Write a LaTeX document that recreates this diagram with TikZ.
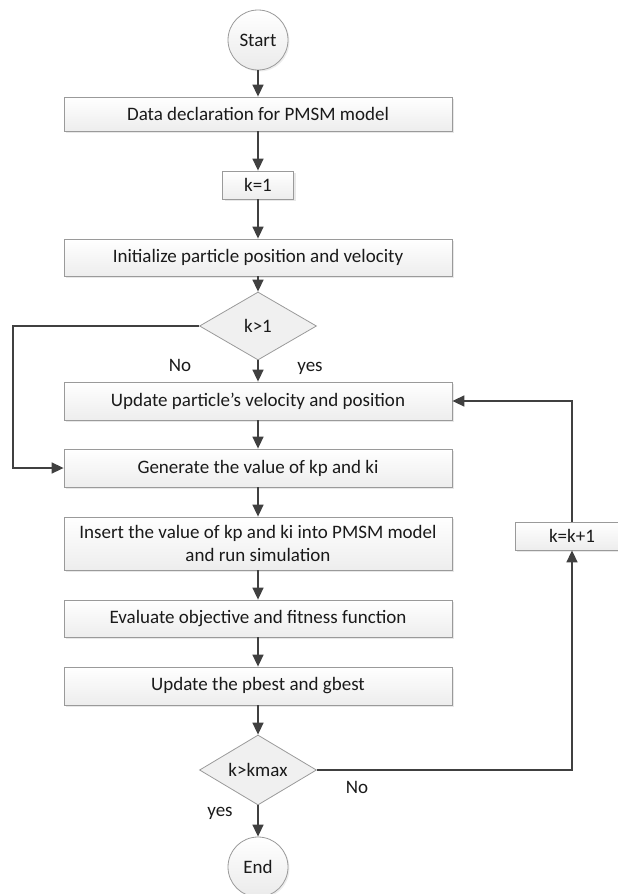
\documentclass[tikz,border=0pt]{standalone}
\usepackage{fontspec}
\setmainfont{Carlito}
\usetikzlibrary{shapes.geometric,arrows.meta,shadows}
\definecolor{edge}{HTML}{9A9A9A}
\definecolor{arr}{HTML}{404040}
\definecolor{ink}{HTML}{1A1A1A}
\tikzset{
  txt/.style={font=\fontsize{19}{23}\selectfont, text=ink},
  procbox/.style={draw=edge, line width=0.8pt, top color=white, bottom color=gray!14,
    minimum width=388pt, minimum height=#1, inner sep=2pt, align=center, txt,
    drop shadow={opacity=0.18, shadow xshift=2pt, shadow yshift=-2pt}},
  procbox/.default=36pt,
  smallbox/.style={draw=edge, line width=0.8pt, top color=white, bottom color=gray!14,
    minimum width=#1, minimum height=28pt, inner sep=2pt, txt,
    drop shadow={opacity=0.18, shadow xshift=2pt, shadow yshift=-2pt}},
  decide/.style={diamond, draw=edge, line width=0.8pt, fill=gray!12, minimum width=117pt, minimum height=#1,
    inner sep=0pt, aspect=1.7, txt},
  terminal/.style={circle, draw=edge, line width=0.8pt, top color=white, bottom color=gray!16,
    minimum size=60pt, inner sep=0pt, txt,
    drop shadow={opacity=0.15, shadow xshift=1.5pt, shadow yshift=-1.5pt}},
  flow/.style={draw=arr, line width=1.6pt, -{Triangle[length=12pt,width=11pt]}},
  lbl/.style={txt, inner sep=0pt, text height=9pt, text depth=3pt}
}
\begin{document}
\begin{tikzpicture}[x=1pt,y=-1pt]
\useasboundingbox (0,0) rectangle (618,894);
\node[terminal] (start) at (258,40) {Start};
\node[procbox=34pt] (b1) at (258,114) {Data declaration for PMSM model};
\node[smallbox=71pt] (k1) at (258,185) {k=1};
\node[procbox=37pt] (init) at (258,257.5) {Initialize particle position and velocity};
\node[decide=68pt] (d1) at (258,326) {k>1};
\node[procbox=38pt] (upd) at (258,401) {Update particle’s velocity and position};
\node[procbox=38pt] (gen) at (258,468) {Generate the value of kp and ki};
\node[procbox=53pt] (ins) at (258,543.5) {Insert the value of kp and ki into PMSM model\\and run simulation};
\node[procbox=37pt] (eva) at (258,618.5) {Evaluate objective and fitness function};
\node[procbox=38pt] (pb) at (258,686) {Update the pbest and gbest};
\node[decide=70pt] (d2) at (258,770) {k>kmax};
\node[terminal] (end) at (258,867) {End};
\node[smallbox=114pt] (kk) at (572,536) {k=k+1};
\node[lbl] (no1) at (180,368) {No};
\node[lbl] (yes1) at (310,368) {yes};
\node[lbl] (no2) at (357,790) {No};
\node[lbl] (yes2) at (220,813) {yes};
\coordinate (l1) at (13,326);
\coordinate (l2) at (13,468);
\coordinate (r1) at (572,770);
\coordinate (r2) at (572,401);
\draw[flow] (start) -- (b1);
\draw[flow] (b1) -- (k1);
\draw[flow] (k1) -- (init);
\draw[flow] (init) -- (d1);
\draw[flow] (d1) -- (upd);
\draw[flow] (upd) -- (gen);
\draw[flow] (gen) -- (ins);
\draw[flow] (ins) -- (eva);
\draw[flow] (eva) -- (pb);
\draw[flow] (pb) -- (d2);
\draw[flow] (d2) -- (end);
\draw[flow] (d1.west) -- (l1) -- (l2) -- (gen.west);
\draw[flow] (d2.east) -- (r1) -- (kk.south);
\draw[flow] (kk.north) -- (r2) -- (upd.east);
\end{tikzpicture}
\end{document}
